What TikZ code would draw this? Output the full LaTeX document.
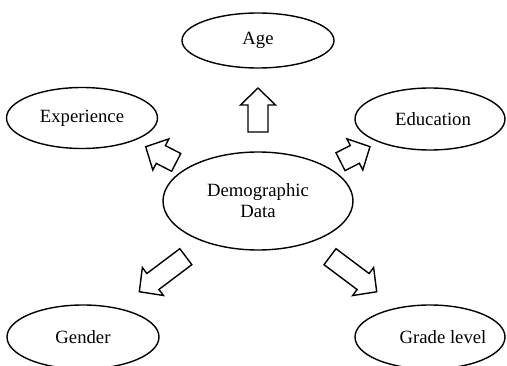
\documentclass[tikz,border=0pt]{standalone}
\usepackage{fontspec}
\setmainfont{Liberation Serif}
\usetikzlibrary{shapes.geometric}
\begin{document}
\begin{tikzpicture}[x=1pt,y=1pt,
  bubble/.style={draw, ellipse, line width=1.4pt, inner sep=0pt, font=\fontsize{18.7}{21}\selectfont, align=center},
  labeltext/.style={inner sep=0pt, font=\fontsize{18.7}{21}\selectfont},
  blockline/.style={draw, line width=1.4pt, line join=miter},
  blockarrow/.pic={\path[blockline] (0,-10) -- (#1-17,-10) -- (#1-17,-17.5) -- (#1,0) -- (#1-17,17.5) -- (#1-17,10) -- (0,10) -- cycle;}]
\useasboundingbox (0,0) rectangle (507,365);
\fill[white] (0,0) rectangle (507,365);
\node[bubble, minimum width=152, minimum height=55] (age) at (258,324.5) {Age};
\node[bubble, minimum width=151, minimum height=61] (exp) at (82,247) {Experience};
\node[bubble, minimum width=150, minimum height=62] (edu) at (430,246) {};
\node[labeltext] (edutext) at (433,246) {Education};
\node[bubble, minimum width=190, minimum height=98] (demo) at (258,164) {Demographic\\Data};
\node[bubble, minimum width=152, minimum height=64] (gen) at (83,28) {Gender};
\node[bubble, minimum width=150, minimum height=64] (grade) at (430,28) {};
\node[labeltext] (gradetext) at (443,28) {Grade level};
\coordinate (aup) at (258,233);
\coordinate (aul) at (176.2,202.6);
\coordinate (aur) at (340.5,203.3);
\coordinate (all) at (185.8,108.3);
\coordinate (alr) at (330,108.3);
\pic[rotate=90] at (aup) {blockarrow=44};
\pic[rotate=152.8] at (aul) {blockarrow=34.3};
\pic[rotate=27] at (aur) {blockarrow=33.1};
\pic[rotate=217] at (all) {blockarrow=58.2};
\pic[rotate=-36.9] at (alr) {blockarrow=58.4};
\end{tikzpicture}
\end{document}
